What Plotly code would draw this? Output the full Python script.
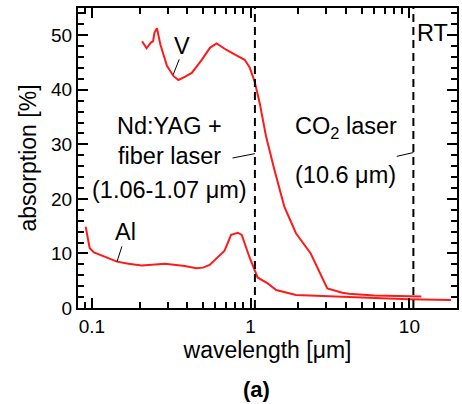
import plotly.graph_objects as go

# ---- data ----
v_wl = [0.207, 0.221, 0.236, 0.243, 0.248, 0.257, 0.270, 0.297, 0.327, 0.351, 0.387, 0.426,
        0.492, 0.554, 0.610, 0.705, 0.814, 0.917, 0.986, 1.06, 1.14, 1.25, 1.41, 1.63, 1.93,
        2.39, 3.04, 3.78, 4.16, 6.0, 11.9]
v_abs = [48.9, 47.6, 48.7, 48.9, 50.5, 51.3, 48.3, 44.4, 42.5, 41.8, 42.4, 43.1,
         45.5, 47.7, 48.5, 47.3, 46.3, 45.5, 44.1, 41.5, 37.6, 31.5, 25.4, 18.6, 13.7,
         10.0, 3.6, 2.8, 2.6, 2.3, 2.1]

al_wl = [0.0914, 0.0968, 0.103, 0.122, 0.144, 0.170, 0.206, 0.289, 0.385, 0.455, 0.501, 0.552,
         0.685, 0.753, 0.830, 0.879, 0.981, 1.106, 1.28, 1.45, 1.93, 4.16, 9.85, 18.3]
al_abs = [14.9, 11.0, 10.2, 9.4, 8.5, 8.1, 7.8, 8.1, 7.7, 7.3, 7.4, 7.9,
          10.5, 13.4, 13.8, 13.4, 9.4, 5.6, 4.5, 3.3, 2.4, 2.0, 1.6, 1.47]

laser_wl = [1.064, 10.6]
x_tickvals = [0.1, 1, 10]
x_ticktext = ["0.1", "1", "10"]
x_minor = [0.09] + [k / 10 for k in range(2, 10)] + list(range(2, 10)) + [20]
y_tickvals = [0, 10, 20, 30, 40, 50]
x_range_log = [-1.0875, 1.3]
y_range = [0, 55]

# leader lines (label pointers)
leaders = [
    ([0.3255, 0.355], [42.8, 45.6]),     # V
    ([0.144, 0.1546], [8.5, 11.3]),      # Al
    ([0.769, 1.064], [27.5, 28.3]),      # Nd:YAG
    ([8.33, 10.6], [27.8, 28.5]),        # CO2
]

FONT = "Liberation Sans, Arial, sans-serif"
RED = "#ff1a1a"
ANN = 23.5

fig = go.Figure()

fig.add_trace(go.Scatter(x=v_wl, y=v_abs, mode="lines", line=dict(color=RED, width=2),
                         showlegend=False, hoverinfo="skip"))
fig.add_trace(go.Scatter(x=al_wl, y=al_abs, mode="lines", line=dict(color=RED, width=2),
                         showlegend=False, hoverinfo="skip"))

for wl in laser_wl:
    fig.add_trace(go.Scatter(x=[wl, wl], y=y_range, mode="lines",
                             line=dict(color="black", width=2, dash="8px,5px"),
                             showlegend=False, hoverinfo="skip"))

for lx, ly in leaders:
    fig.add_trace(go.Scatter(x=lx, y=ly, mode="lines", line=dict(color="black", width=1),
                             showlegend=False, hoverinfo="skip"))

def txt(xlog, y, s, size=ANN):
    fig.add_annotation(x=xlog, y=y, xref="x", yref="y", text=s, showarrow=False,
                       font=dict(family=FONT, size=size, color="black"),
                       xanchor="center", yanchor="middle")

txt(-0.433, 48.0, "V")
txt(-0.789, 14.0, "Al")
txt(-0.5125, 33.3, "Nd:YAG +")
txt(-0.5125, 27.8, "fiber laser")
txt(-0.5125, 21.7, "(1.06-1.07 μm)")
txt(0.60, 33.1, "CO<sub>2</sub> laser")
txt(0.60, 24.4, "(10.6 μm)")
txt(1.147, 50.5, "RT")

fig.add_annotation(x=0.472, y=-0.273, xref="paper", yref="paper", text="<b>(a)</b>",
                   showarrow=False, font=dict(family=FONT, size=22, color="black"),
                   xanchor="center", yanchor="middle")

tickfont = dict(family=FONT, size=19, color="black")

fig.update_xaxes(type="log", range=x_range_log, tickvals=x_tickvals, ticktext=x_ticktext,
                 ticks="inside", ticklen=10, tickwidth=2, tickcolor="black",
                 showline=True, linecolor="black", linewidth=2, mirror="allticks",
                 showgrid=False, zeroline=False, tickfont=tickfont,
                 title=dict(text="wavelength [μm]", font=dict(family=FONT, size=23, color="black"),
                            standoff=4),
                 minor=dict(tickvals=x_minor, ticks="inside", ticklen=6, tickwidth=2,
                            tickcolor="black", showgrid=False))
fig.update_yaxes(range=y_range, tickvals=y_tickvals,
                 ticks="inside", ticklen=10, tickwidth=2, tickcolor="black",
                 showline=True, linecolor="black", linewidth=2, mirror="allticks",
                 showgrid=False, zeroline=False, tickfont=tickfont,
                 title=dict(text="absorption [%]", font=dict(family=FONT, size=23, color="black"),
                            standoff=8),
                 minor=dict(dtick=2, ticks="inside", ticklen=6, tickwidth=2,
                            tickcolor="black", showgrid=False))

fig.update_layout(width=462, height=404, margin=dict(l=78, r=3, t=8, b=96),
                  plot_bgcolor="white", paper_bgcolor="white", showlegend=False)

fig.write_html("out.html")
